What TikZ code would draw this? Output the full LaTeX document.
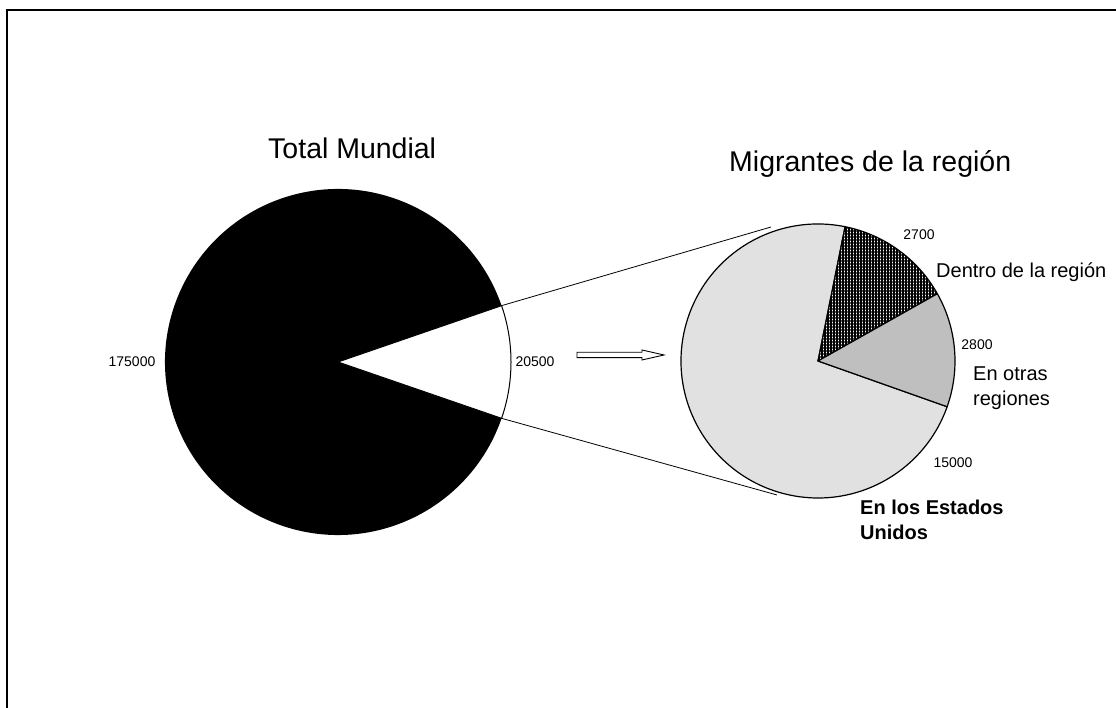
\documentclass[tikz,border=0pt]{standalone}
\usepackage{fontspec}
\setmainfont{Liberation Sans}
\usetikzlibrary{patterns.meta,calc}
\begin{document}
\begin{tikzpicture}[x=1pt,y=1pt,
  title/.style={font=\fontsize{28.5}{34}\selectfont, inner sep=0pt, anchor=base west},
  lbl/.style={font=\fontsize{20}{25}\selectfont, inner sep=0pt, anchor=base west, align=left},
  num/.style={font=\fontsize{14}{17}\selectfont, inner sep=0pt},
  slice/.style={draw=black, line width=1.2pt, line join=round},
  conn/.style={draw=black, line width=0.8pt}]
\useasboundingbox (0,0) rectangle (1116,708);
\clip (0,0) rectangle (1116,708);
% frame
\draw[line width=2pt] (7,-20) -- (7,698) -- (1140,698);

% left pie
\coordinate (L) at (338,346);
\def\rl{173}
\fill[black] (L) -- ++(19:\rl) arc[start angle=19, end angle=341, radius=\rl] -- cycle;
\draw[slice, line width=1pt, fill=white] (L) -- ++(-19:\rl) arc[start angle=-19, end angle=19, radius=\rl] -- cycle;
\coordinate (Lu) at ($(L)+(19:\rl)$);
\coordinate (Ll) at ($(L)+(-19:\rl)$);

% right pie
\coordinate (R) at (818,347);
\def\rr{137}
% Estados Unidos
\fill[white] (R) -- ++(78.6:\rr) arc[start angle=78.6, end angle=340.5, radius=\rr] -- cycle;
\fill[pattern={Dots[distance=2pt, radius=0.6pt]}, pattern color=black!50] (R) -- ++(78.6:\rr) arc[start angle=78.6, end angle=340.5, radius=\rr] -- cycle;
\draw[slice] (R) -- ++(78.6:\rr) arc[start angle=78.6, end angle=340.5, radius=\rr] -- cycle;
% Dentro de la region
\fill[white] (R) -- ++(29.4:\rr) arc[start angle=29.4, end angle=78.6, radius=\rr] -- cycle;
\fill[pattern={Lines[distance=3pt, angle=0, line width=1.6pt]}, pattern color=black] (R) -- ++(29.4:\rr) arc[start angle=29.4, end angle=78.6, radius=\rr] -- cycle;
\fill[pattern={Lines[distance=3pt, angle=90, line width=1.6pt]}, pattern color=black] (R) -- ++(29.4:\rr) arc[start angle=29.4, end angle=78.6, radius=\rr] -- cycle;
\draw[slice] (R) -- ++(29.4:\rr) arc[start angle=29.4, end angle=78.6, radius=\rr] -- cycle;
% En otras regiones
\draw[slice, fill=black!25] (R) -- ++(-19.5:\rr) arc[start angle=-19.5, end angle=29.4, radius=\rr] -- cycle;

% connectors
\coordinate (Ru) at (771,481);
\coordinate (Rl) at (777,213);
\draw[conn] (Lu) -- (Ru);
\draw[conn] (Ll) -- (Rl);

% block arrow
\coordinate (A) at (577,353);
\draw[line width=0.9pt, fill=white] (A) ++(0,2.7) -- ++(65,0) -- ++(0,2.3) -- (664,353) -- (642,348) -- (642,350.3) -- (577,350.3) -- cycle;

% titles
\node[title] (t1) at (268,549) {Total Mundial};
\node[title] (t2) at (729,536) {Migrantes de la región};

% numbers
\node[num] (n1) at (132,346) {175000};
\node[num] (n2) at (535,346) {20500};
\node[num] (n3) at (919,473) {2700};
\node[num] (n4) at (977,363) {2800};
\node[num] (n5) at (953,245) {15000};

% labels
\node[lbl] (l1) at (936,430) {Dentro de la región};
\node[lbl] (l2) at (973,302) {En otras\\regiones};
\node[lbl, font=\fontsize{20}{25}\selectfont\bfseries] (l3) at (860,168) {En los Estados\\Unidos};
\end{tikzpicture}
\end{document}
